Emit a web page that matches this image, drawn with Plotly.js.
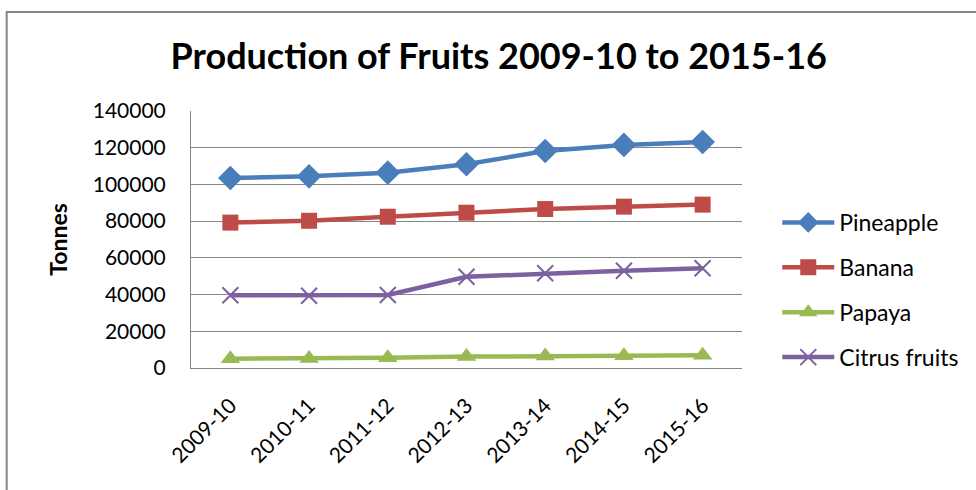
<!DOCTYPE html>
<html><head><meta charset="utf-8">
<script src="https://cdn.plot.ly/plotly-3.0.1.min.js"></script>
<style>html,body{margin:0;padding:0;background:#fff}#chart{width:976px;height:490px}</style>
</head><body><div id="chart"></div>
<script>
const years = ["2009-10","2010-11","2011-12","2012-13","2013-14","2014-15","2015-16"];
const pineapple = [103500,104400,106400,111000,118200,121500,123100];
const banana = [79200,80200,82400,84600,86600,87900,89000];
const papaya = [5100,5200,5600,6200,6500,6700,6900];
const citrus = [39600,39400,39800,49700,51600,53000,54300];
const yTicks = [0,20000,40000,60000,80000,100000,120000,140000];

function tr(name, y, color, symbol, size){
  return {x: years, y: y, name: name, type: 'scatter', mode: 'lines+markers', legendgroup: name,
    line: {color: color, width: 4.5}, marker: {symbol: symbol, size: size, color: color,
    line: {color: color, width: symbol==='x-thin' ? 2 : 0}}};
}
const data = [
  tr('Pineapple', pineapple, '#4A7EBB', 'diamond', 19),
  tr('Banana', banana, '#BE4B48', 'square', 16),
  tr('Papaya', papaya, '#98B954', 'triangle-up', 17),
  tr('Citrus fruits', citrus, '#7D60A0', 'x-thin', 16)
];
const F = 'Lato, "Open Sans", sans-serif';
const layout = {
  width: 976, height: 490,
  margin: {l: 191, r: 232, t: 111, b: 122},
  paper_bgcolor: '#fff', plot_bgcolor: '#fff',
  font: {family: F, color: '#000', size: 21},
  title: {text: '<b>Production of Fruits 2009-10 to 2015-16</b>', font: {family: F, size: 36, color: '#000'},
    xref: 'container', yref: 'container', x: 0.511, y: 0.884, xanchor: 'center', yanchor: 'middle'},
  xaxis: {type: 'category', range: [-0.5, 6.5], tickangle: -45, showgrid: false,
    showline: true, linecolor: '#868686', linewidth: 1, ticks: '', tickfont: {size: 21}, zeroline: false,
    ticklabelstandoff: 16},
  yaxis: {range: [0, 140000], tickvals: yTicks, ticktext: yTicks.map(String), showgrid: true, gridcolor: '#868686', gridwidth: 1,
    showline: true, linecolor: '#868686', linewidth: 1, ticks: '', 
    tickfont: {size: 21}, zeroline: false, ticklabelstandoff: 20,
    title: {text: '<b>Tonnes</b>', font: {size: 23}, standoff: 18}},
  showlegend: true,
  legend: {x: 1.064, y: 0.65, xanchor: 'left', yanchor: 'top', font: {size: 23}, tracegroupgap: 12, itemwidth: 52,
    bgcolor: 'rgba(0,0,0,0)'},
  shapes: [{type: 'rect', xref: 'paper', yref: 'paper', x0: -0.3345, x1: 1.5, y0: -0.6, y1: 1.385,
    line: {color: '#868686', width: 2}, fillcolor: 'rgba(0,0,0,0)', layer: 'below'}]
};
Plotly.newPlot('chart', data, layout, {displayModeBar: false, staticPlot: true});
</script></body></html>
